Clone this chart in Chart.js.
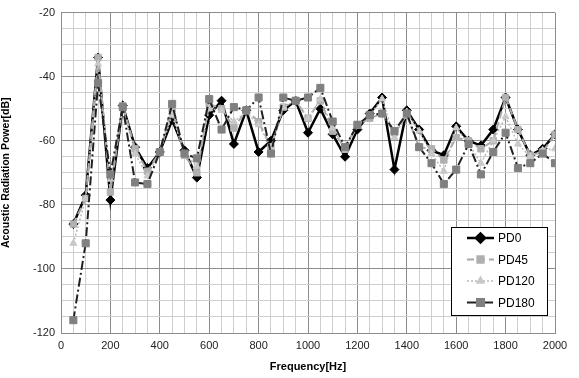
<!DOCTYPE html>
<html>
<head>
<meta charset="utf-8">
<script src="https://cdn.jsdelivr.net/npm/chart.js@4/dist/chart.umd.min.js"></script>
<style>
  html, body { margin: 0; padding: 0; background: #fff; }
  #wrap { width: 579px; height: 378px; }
</style>
</head>
<body>
<div id="wrap"><canvas id="chart" width="579" height="378"></canvas></div>
<script>
"use strict";

// frequencies [Hz]
var freq = [50, 100, 150, 200, 250, 300, 350, 400, 450, 500,
  550, 600, 650, 700, 750, 800, 850, 900, 950, 1000,
  1050, 1100, 1150, 1200, 1250, 1300, 1350, 1400, 1450, 1500,
  1550, 1600, 1650, 1700, 1750, 1800, 1850, 1900, 1950, 2000];

// acoustic radiation power [dB]
var pd0 = [-86, -77, -34, -78.5, -49, -62, -68.5, -63.5, -53.5, -63,
  -71.5, -52, -47.5, -61, -50.5, -63.5, -60, -50.5, -47.5, -57.5,
  -50, -58, -65, -56.5, -51.5, -46.5, -69, -50.5, -56.5, -63,
  -64.5, -55.5, -60, -61.5, -56.5, -46.5, -56.5, -64.5, -62.5, -58];
var pd45 = [-86, -78, -34, -76, -49, -62.5, -69.5, -63.5, -50, -64.5,
  -70, -48.5, -50, -56, -50.5, -54, -62, -49.5, -47.5, -53,
  -47.5, -57, -62, -55, -53, -51.5, -57.5, -52, -62, -62.5,
  -66, -59, -60, -62.5, -60, -46.5, -56.5, -64.5, -63.5, -58];
var pd120 = [-92, -78, -36, -72, -49.5, -64, -71, -63.5, -52, -64,
  -68, -50, -50.5, -54, -51, -55, -62, -49.5, -47.5, -53,
  -47, -56, -63, -55.5, -52, -47, -59, -51, -57, -64,
  -69.5, -56, -61, -67, -60, -52.5, -61, -65, -63, -62.5];
var pd180 = [-116, -92, -42, -70.5, -49.5, -73, -73.5, -63.5, -48.5, -64,
  -65.5, -47, -56.5, -49.5, -50.5, -46.5, -64, -46.5, -47.5, -46.5,
  -43.5, -54, -62, -55, -52, -51.5, -57, -51.5, -62, -67,
  -73.5, -69, -61, -70.5, -63.5, -57.5, -68.5, -67, -64, -67];

var seriesNames = ["PD0", "PD45", "PD120", "PD180"];
var xMajor = 200, yMajor = 20;

function points(vals) {
  return freq.map(function (f, i) { return { x: f, y: vals[i] }; });
}

var FONT = "'Liberation Sans', Arial, sans-serif";

var datasets = [
  {
    label: seriesNames[0], data: points(pd0), order: 4,
    borderColor: "#000", borderWidth: 2.5,
    pointStyle: "rectRot", pointRadius: 4.5,
    pointBackgroundColor: "#000", pointBorderColor: "#000", pointBorderWidth: 1
  },
  {
    label: seriesNames[1], data: points(pd45), order: 3,
    borderColor: "#a8a8a8", borderWidth: 2, borderDash: [7, 4],
    pointStyle: "rect", pointRadius: 4.5,
    pointBackgroundColor: "#b0b0b0", pointBorderColor: "#b0b0b0", pointBorderWidth: 1
  },
  {
    label: seriesNames[2], data: points(pd120), order: 2,
    borderColor: "#b8b8b8", borderWidth: 1.5, borderDash: [2, 2],
    pointStyle: "triangle", pointRadius: 4,
    pointBackgroundColor: "#c8c8c8", pointBorderColor: "#c8c8c8", pointBorderWidth: 1
  },
  {
    label: seriesNames[3], data: points(pd180), order: 1,
    borderColor: "#202020", borderWidth: 2, borderDash: [9, 3, 2, 3],
    pointStyle: "rect", pointRadius: 5,
    pointBackgroundColor: "#808080", pointBorderColor: "#808080", pointBorderWidth: 1
  }
];

// legend box drawn inside the plot area (lower right)
var boxLegend = {
  id: "boxLegend",
  afterDraw: function (chart) {
    var ctx = chart.ctx, area = chart.chartArea;
    var w = 96, h = 88;
    var x0 = area.right - 8 - w, y0 = area.bottom - 18 - h;
    ctx.save();
    ctx.fillStyle = "#fff";
    ctx.fillRect(x0, y0, w, h);
    ctx.strokeStyle = "#000";
    ctx.lineWidth = 1;
    ctx.strokeRect(x0 + 0.5, y0 + 0.5, w, h);
    ctx.font = "12px " + FONT;
    ctx.textBaseline = "middle";
    datasets.forEach(function (ds, i) {
      var cy = y0 + 11 + i * 21.5;
      var lx0 = x0 + 16, lx1 = x0 + 43;
      ctx.strokeStyle = ds.borderColor;
      ctx.lineWidth = ds.borderWidth;
      ctx.setLineDash(ds.borderDash || []);
      ctx.beginPath();
      ctx.moveTo(lx0, cy);
      ctx.lineTo(lx1, cy);
      ctx.stroke();
      ctx.setLineDash([]);
      ctx.fillStyle = ds.pointBackgroundColor;
      ctx.strokeStyle = ds.pointBorderColor;
      Chart.helpers.drawPoint(ctx, {
        pointStyle: ds.pointStyle, radius: ds.pointRadius, borderWidth: 1, rotation: 0
      }, (lx0 + lx1) / 2, cy);
      ctx.fillStyle = "#000";
      ctx.fillText(ds.label, x0 + 47, cy + 1);
    });
    ctx.restore();
  }
};

new Chart(document.getElementById("chart"), {
  type: "line",
  data: { datasets: datasets },
  options: {
    responsive: false,
    animation: false,
    layout: { padding: { top: 11, right: 24, bottom: 0, left: 0 } },
    plugins: { legend: { display: false }, tooltip: { enabled: false } },
    elements: { line: { tension: 0 } },
    scales: {
      x: {
        type: "linear", min: 0, max: 2000,
        afterBuildTicks: function (s) {
          s.ticks = [];
          for (var v = 0; v <= 2000; v += 50) s.ticks.push({ value: v });
        },
        afterFit: function (s) { s.height = 45; },
        ticks: {
          autoSkip: false, maxRotation: 0, padding: 6, color: "#222",
          font: { family: FONT, size: 11 },
          callback: function (v) { return v % xMajor === 0 ? v : ""; }
        },
        grid: {
          drawTicks: false,
          color: function (c) { return c.tick && c.tick.value % xMajor === 0 ? "#8c8c8c" : "#cfcfcf"; }
        },
        border: { color: "#8c8c8c" },
        title: {
          display: true, text: "Frequency[Hz]", color: "#000",
          font: { family: FONT, size: 11, weight: "bold" }, padding: { top: 4 }
        }
      },
      y: {
        min: -120, max: -20,
        afterBuildTicks: function (s) {
          s.ticks = [];
          for (var v = -120; v <= -20; v += 5) s.ticks.push({ value: v });
        },
        afterFit: function (s) { s.width = 61; },
        ticks: {
          autoSkip: false, padding: 6, color: "#222",
          font: { family: FONT, size: 11 },
          callback: function (v) { return v % yMajor === 0 ? v : ""; }
        },
        grid: {
          drawTicks: false,
          color: function (c) { return c.tick && c.tick.value % yMajor === 0 ? "#8c8c8c" : "#cfcfcf"; }
        },
        border: { color: "#8c8c8c" },
        title: {
          display: true, text: "Acoustic Radiation Power[dB]", color: "#000",
          font: { family: FONT, size: 10.5, weight: "bold" }, padding: { top: 0, bottom: 2 }
        }
      }
    }
  },
  plugins: [boxLegend]
});
</script>
</body>
</html>
